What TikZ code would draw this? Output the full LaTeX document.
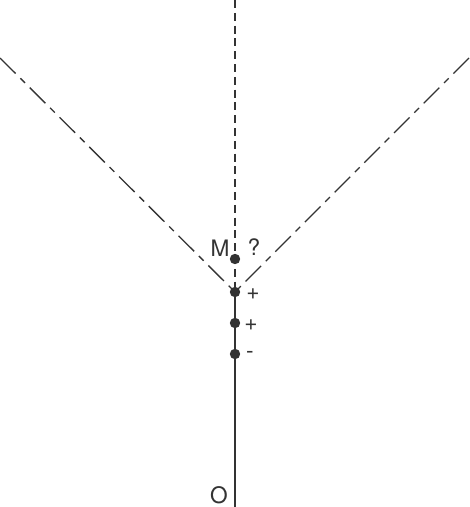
\documentclass[tikz,border=0pt]{standalone}
\usepackage{fontspec}
\setmainfont{TeX Gyre Heros}
\usepackage{tikz}

\begin{document}
\begin{tikzpicture}[x=0.75pt,y=-0.75pt,
        axis/.style={line width=1pt,draw=black!80},
        dot/.style={circle,fill=black!80,inner sep=0pt,minimum size=7.8pt},
        lbl/.style={text=black!80,inner sep=0pt,font=\fontsize{17}{20}\selectfont},
        sgn/.style={text=black!80,inner sep=0pt,font=\fontsize{17}{20}\selectfont}]
        \useasboundingbox (0,0) rectangle (469,507);

        \coordinate (top) at (235,0);
        \coordinate (vertex) at (235,292);
        \coordinate (bottom) at (235,507);
        \coordinate (left) at (0,58);
        \coordinate (right) at (469,58);

        \draw[axis] (vertex) -- (bottom);
        \draw[axis,dash pattern=on 6pt off 3.6pt] (top) -- (vertex);
        \draw[axis,dash pattern=on 16.5pt off 5pt on 5pt off 5pt] (left) -- (vertex);
        \draw[axis,dash pattern=on 16.5pt off 5pt on 5pt off 5pt] (right) -- (vertex);

        \node[dot] (m) at (235,259) {};
        \node[dot] (p1) at (vertex) {};
        \node[dot] (p2) at (235,323) {};
        \node[dot] (p3) at (235,354) {};

        \node[lbl] (mlabel) at (220,248) {M};
        \node[lbl] (qlabel) at (254,247) {?};
        \node[sgn] (s1) at (253,294) {+};
        \node[sgn] (s2) at (251,325) {+};
        \node[sgn] (s3) at (250,355) {-};
        \node[lbl] (olabel) at (219,495) {O};
    \end{tikzpicture}
\end{document}
